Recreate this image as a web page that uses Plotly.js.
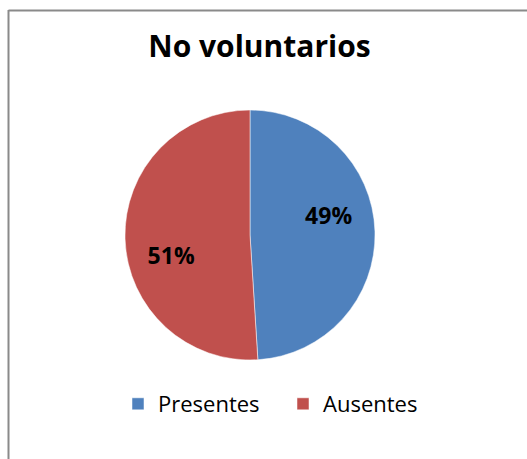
<!DOCTYPE html>
<html>
<head>
<meta charset="utf-8">
<script src="https://cdn.plot.ly/plotly-3.0.1.min.js"></script>
<style>html,body{margin:0;padding:0;background:#fff;}#chart{width:527px;height:459px;}</style>
</head>
<body>
<div id="chart"></div>
<script>
const chartTitle = "No voluntarios";
const categories = ["Presentes", "Ausentes"];
const values = [49, 51];
const colors = ["#4F81BD", "#C0504D"];

const W = 527, H = 459;
const pieDomain = {x: [125 / W, 375 / W], y: [1 - 360 / H, 1 - 110 / H]};
const labelFont = {family: "Open Sans, Liberation Sans, sans-serif", size: 23, color: "#000000", weight: "bold"};

const slices = {
  type: "pie",
  labels: categories,
  values: values,
  sort: false,
  direction: "clockwise",
  rotation: 0,
  marker: {colors: colors, line: {color: "#ffffff", width: 0.5}},
  textinfo: "none",
  hoverinfo: "none",
  domain: pieDomain
};

// transparent overlay used only to place the percentage labels (Excel "best fit" style)
const labelsLayer = {
  type: "pie",
  labels: categories,
  values: values,
  sort: false,
  direction: "clockwise",
  rotation: -12.5,
  hole: 0.3,
  showlegend: false,
  marker: {colors: ["rgba(0,0,0,0)", "rgba(0,0,0,0)"], line: {width: 0}},
  texttemplate: "%{percent:.0%}",
  textposition: "inside",
  insidetextorientation: "horizontal",
  textfont: labelFont,
  hoverinfo: "none",
  domain: pieDomain
};

const layout = {
  width: W, height: H,
  margin: {l: 0, r: 0, t: 0, b: 0},
  paper_bgcolor: "#ffffff",
  title: {
    text: "<b>" + chartTitle + "</b>",
    font: {family: "Open Sans, Liberation Sans, sans-serif", size: 30, color: "#000000"},
    x: 259.5 / W, xanchor: "center", xref: "paper",
    y: 1 - 46 / H, yanchor: "middle", yref: "paper"
  },
  showlegend: true,
  legend: {
    orientation: "h",
    x: 283 / W, xanchor: "center",
    y: 1 - 404 / H, yanchor: "middle",
    font: {family: "Open Sans, Liberation Sans, sans-serif", size: 22, color: "#000000"},
    entrywidth: 120,
    traceorder: "normal"
  },
  shapes: [
    {type: "line", xref: "paper", yref: "paper", x0: 8.5 / W, x1: 1, y0: 1 - 10.5 / H, y1: 1 - 10.5 / H, line: {color: "#8a8a8a", width: 2}},
    {type: "line", xref: "paper", yref: "paper", x0: 8.5 / W, x1: 8.5 / W, y0: 0, y1: 1 - 10 / H, line: {color: "#8a8a8a", width: 2}}
  ]
};

Plotly.newPlot("chart", [slices, labelsLayer], layout, {staticPlot: true, displayModeBar: false});
</script>
</body>
</html>
